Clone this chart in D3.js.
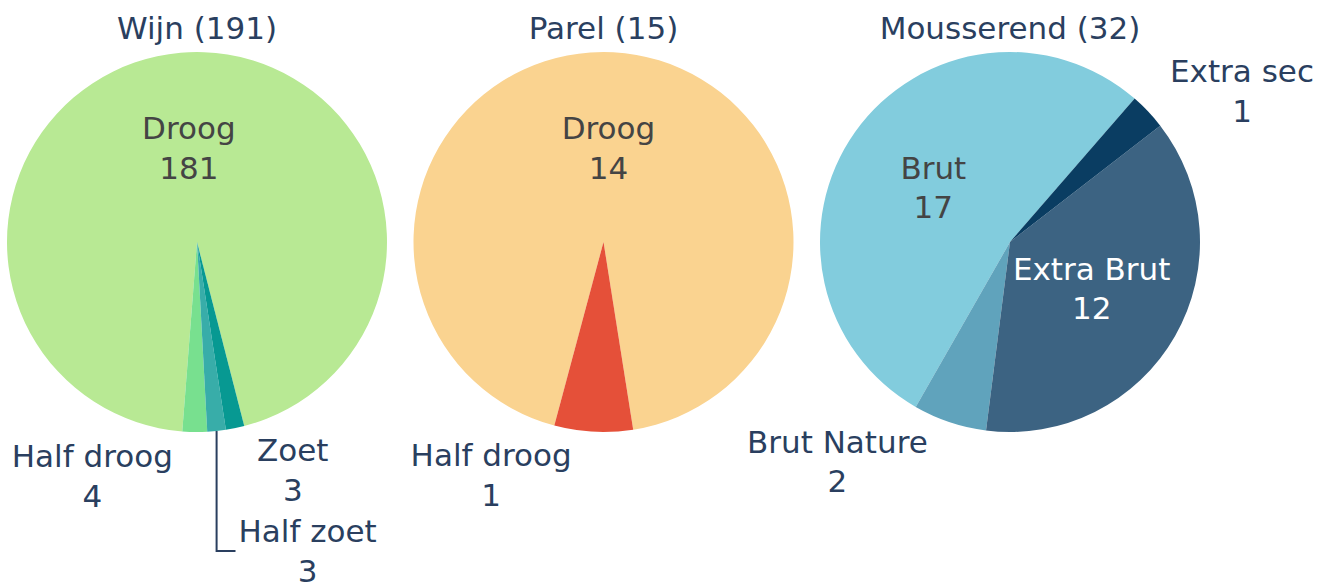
<!DOCTYPE html>
<html>
<head>
<meta charset="utf-8">
<script src="https://cdn.jsdelivr.net/npm/d3@7"></script>
<style>
  body { margin: 0; background: #fff; }
</style>
</head>
<body>
<div id="chart"></div>
<script>
// Data
var groupNames = ["Wijn", "Parel", "Mousserend"];

var wijnLabels = ["Droog", "Half droog", "Half zoet", "Zoet"];
var wijnValues = [181, 4, 3, 3];
var wijnColors = ["#b8e994", "#78e08f", "#38ada9", "#079992"];

var parelLabels = ["Droog", "Half droog"];
var parelValues = [14, 1];
var parelColors = ["#fad390", "#e55039"];

var mousLabels = ["Brut", "Brut Nature", "Extra Brut", "Extra sec"];
var mousValues = [17, 2, 12, 1];
var mousColors = ["#82ccdd", "#60a3bc", "#3c6382", "#0a3d62"];

// angle (degrees, clockwise from 12 o'clock) where the first slice starts, slices run counterclockwise
var startAngles = [165.6, 171, 41];

var pies = [
  { labels: wijnLabels, values: wijnValues, colors: wijnColors },
  { labels: parelLabels, values: parelValues, colors: parelColors },
  { labels: mousLabels, values: mousValues, colors: mousColors }
];

// Layout
var width = 1328, height = 582;
var radius = 190, cy = 242;
var fontSize = 31;
var fontFamily = "'DejaVu Sans', Verdana, sans-serif";
var textColor = "#2a3f5f";
var labelPad = 12;

var svg = d3.select('#chart')
  .append('svg')
  .attr('width', width)
  .attr('height', height)
  .style('font-family', fontFamily)
  .style('font-size', fontSize + 'px');

var xScale = d3.scalePoint()
  .domain(groupNames)
  .range([197, 1010]);

var arc = d3.arc().innerRadius(0).outerRadius(radius);

// two-line label: name + value
function addLabel(parent, label, value, fill) {
  var t = parent.append('text')
    .attr('text-anchor', 'middle')
    .attr('fill', fill);
  t.append('tspan').attr('x', 0).attr('y', -0.64 * fontSize).attr('dy', '0.35em').text(label);
  t.append('tspan').attr('x', 0).attr('y', 0.64 * fontSize).attr('dy', '0.35em').text(value);
  return t;
}

pies.forEach(function(p, idx) {
  var name = groupNames[idx];
  var cx = xScale(name);
  var total = d3.sum(p.values);
  var a0 = startAngles[idx] * Math.PI / 180;

  var data = p.values.map(function(v, i) {
    return { label: p.labels[i], value: v, color: p.colors[i] };
  });

  var pie = d3.pie()
    .sort(null)
    .value(function(d) { return d.value; })
    .startAngle(a0)
    .endAngle(a0 - 2 * Math.PI);

  var arcs = pie(data);

  var g = svg.append('g').attr('transform', 'translate(' + cx + ',' + cy + ')');

  g.selectAll('path')
    .data(arcs)
    .enter().append('path')
    .attr('d', arc)
    .attr('fill', function(d) { return d.data.color; });

  // title
  svg.append('text')
    .attr('x', cx)
    .attr('y', 39)
    .attr('text-anchor', 'middle')
    .attr('fill', textColor)
    .text(name + ' (' + total + ')');

  // labels
  var outside = [];
  arcs.forEach(function(a) {
    var mid = (a.startAngle + a.endAngle) / 2;
    var frac = a.value / total;
    if (frac > 0.2) {
      var r = radius * 0.495;
      var col = d3.hsl(a.data.color).l > 0.5 ? '#444' : '#fff';
      var t = addLabel(g, a.data.label, a.value, col);
      t.attr('transform', 'translate(' + (r * Math.sin(mid)) + ',' + (-r * Math.cos(mid)) + ')');
    } else {
      var px = radius * Math.sin(mid), py = -radius * Math.cos(mid);
      var t2 = addLabel(g, a.data.label, a.value, textColor);
      var bb = t2.node().getBBox();
      var h = bb.height + labelPad;
      var dx = bb.width / 2 * (px < 0 ? -1 : 1);
      var dy = h / 2 * (py < 0 ? -1 : 1);
      var tx = px + dx + Math.abs(dy) / 2 * (dx > 0 ? 1 : -1);
      var ty = py + dy / (1 + px * px / (py * py));
      outside.push({ node: t2, px: px, py: py, tx: tx, ty: ty, w: bb.width, h: bb.height + 5, moved: false });
    }
  });

  // push overlapping outside labels apart, per side
  [[true, true], [true, false], [false, true], [false, false]].forEach(function(q) {
    var list = outside.filter(function(o) { return (o.px < 0) === q[0] && (o.py > 0) === q[1]; });
    list.sort(function(a, b) { return Math.abs(b.px) - Math.abs(a.px); });
    var edge = null;
    list.forEach(function(o) {
      if (q[1]) {
        if (edge !== null && o.ty - o.h / 2 < edge) { o.ty = edge + o.h / 2; o.moved = true; }
        edge = o.ty + o.h / 2;
      } else {
        if (edge !== null && o.ty + o.h / 2 > edge) { o.ty = edge - o.h / 2; o.moved = true; }
        edge = o.ty - o.h / 2;
      }
    });
  });

  outside.forEach(function(o) {
    o.node.attr('transform', 'translate(' + o.tx + ',' + o.ty + ')');
    if (o.moved) {
      var side = o.px < 0 ? -1 : 1;
      g.append('path')
        .attr('d', 'M' + o.px + ',' + o.py + 'V' + o.ty + 'H' + (o.tx - side * (o.w / 2 + 3)))
        .attr('fill', 'none')
        .attr('stroke', textColor)
        .attr('stroke-width', 2);
    }
  });
});
</script>
</body>
</html>
